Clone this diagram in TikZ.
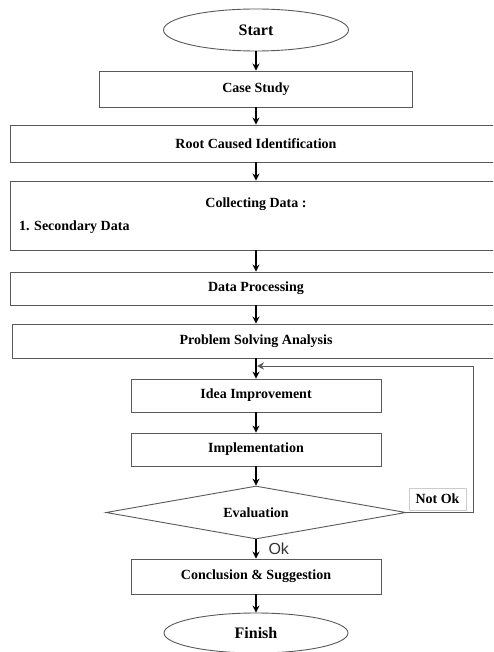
\documentclass[tikz,border=0pt]{standalone}
\usepackage{fontspec}
\setmainfont{Liberation Serif}
\newfontfamily\okfont{Liberation Sans}
\usetikzlibrary{shapes.geometric, arrows, arrows.meta}
\tikzstyle{startstop} = [ellipse, minimum width=185pt, minimum height=42pt, inner sep=1pt, text centered, draw=black!65, line width=0.9pt, font=\fontsize{16}{18}\selectfont\bfseries]
\tikzstyle{process} = [rectangle, minimum width=250pt, minimum height=34pt, inner sep=1pt, text centered, draw=black!65, line width=0.9pt, font=\fontsize{14}{16}\selectfont\bfseries]
\tikzstyle{widebox} = [process, minimum width=492pt]
\tikzstyle{decision} = [diamond, aspect=5.6, minimum width=300pt, minimum height=53pt, inner sep=1pt, text centered, draw=black!65, line width=0.9pt, font=\fontsize{14}{16}\selectfont\bfseries]
\tikzstyle{arrow} = [line width=1.1pt,-{Stealth[length=7pt,width=7pt]}]

\begin{document}
\begin{tikzpicture}[x=1pt, y=1pt, node distance=55pt]

        \clip (0,0) rectangle (493,-652);

        \node (start) [startstop] at (256,-30) {Start};
        \node (CaseStudy) [process, minimum width=313pt, minimum height=36pt, node distance=59pt, below of=start] {Case Study};
        \node (RootCause) [widebox, minimum height=37pt, node distance=54.5pt, below of=CaseStudy] {Root Caused Identification};
        \node (collect) [widebox, minimum height=69pt, node distance=72pt, below of=RootCause] {};
        \node (collectTitle) [font=\fontsize{14}{16}\selectfont\bfseries] at ([yshift=11pt]collect.center) {Collecting Data :};
        \node (secondary) [anchor=west, font=\fontsize{14}{16}\selectfont\bfseries] at ([xshift=6pt,yshift=-12pt]collect.west) {1. Secondary Data};
        \node (DataProcessing) [widebox, minimum height=33pt, node distance=73pt, below of=collect] {Data Processing};
        \node (ProblemSolving) [widebox, minimum width=488pt, node distance=52.5pt, below of=DataProcessing] {Problem Solving Analysis};
        \node (IdeaImprovement) [process, minimum height=33pt, node distance=54.5pt, below of=ProblemSolving] {Idea Improvement};
        \node (Implementation) [process, minimum height=33pt, node distance=54pt, below of=IdeaImprovement] {Implementation};
        \node (Evaluation) [decision, node distance=63pt, below of=Implementation] {Evaluation};
        \node (Conclusion) [process, minimum height=35pt, node distance=64pt, below of=Evaluation] {Conclusion \& Suggestion};
        \node (finish) [startstop, minimum width=184pt, minimum height=40pt, node distance=56.5pt, below of=Conclusion] {Finish};

        \node (NotOk) [draw=black!20, minimum width=57pt, minimum height=22pt, font=\fontsize{14}{16}\selectfont\bfseries] at (437.5,-499) {Not Ok};
        \node (Ok) [anchor=west, text=black!80, font=\okfont\fontsize{16}{18}\selectfont] at (265,-549) {Ok};

        \coordinate (loopcorner) at (473,-366);
        \coordinate (loopend) at (257,-366);

        \draw [arrow] (start) -- (CaseStudy);
        \draw [arrow] (CaseStudy) -- (RootCause);
        \draw [arrow] (RootCause) -- (collect);
        \draw [arrow] (collect) -- (DataProcessing);
        \draw [arrow] (DataProcessing) -- (ProblemSolving);
        \draw [arrow] (ProblemSolving) -- (IdeaImprovement);
        \draw [arrow] (IdeaImprovement) -- (Implementation);
        \draw [arrow] (Implementation) -- (Evaluation);
        \draw [arrow] (Evaluation) -- (Conclusion);
        \draw [arrow] (Conclusion) -- (finish);
        \draw [arrow, draw=black!65, line width=0.9pt] (Evaluation.east) -| (loopcorner) -- (loopend);

      \end{tikzpicture}
\end{document}
